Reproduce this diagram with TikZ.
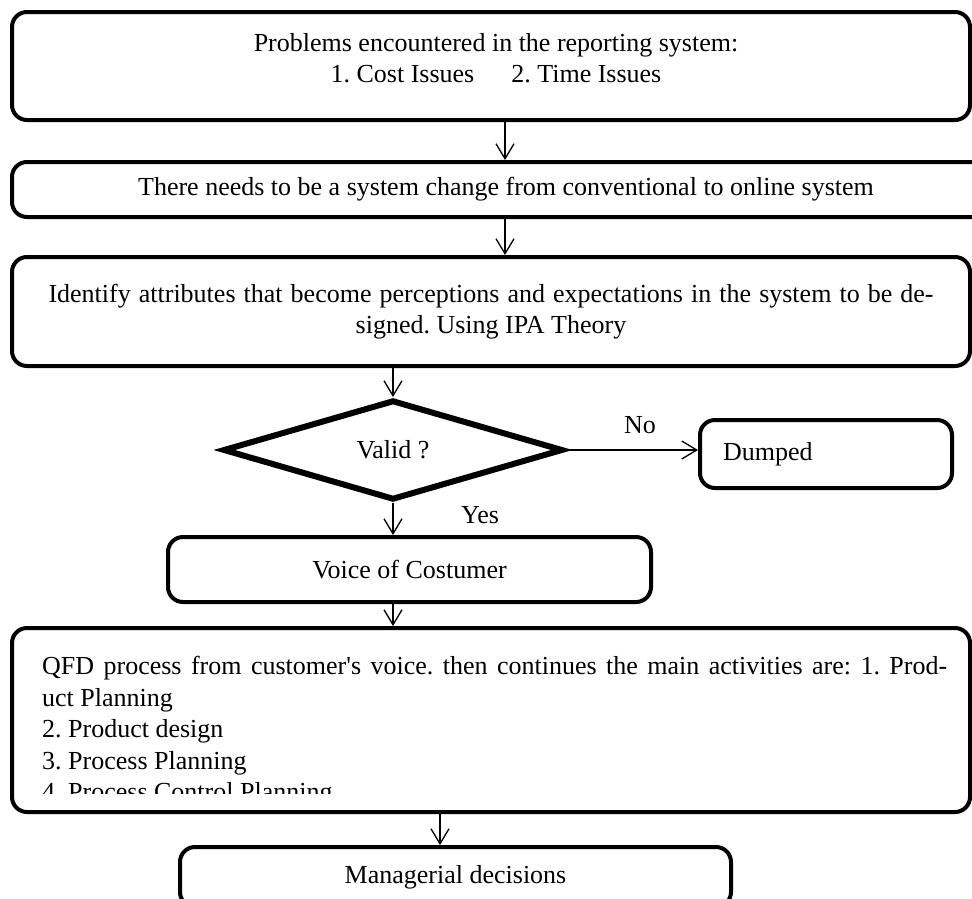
\documentclass[tikz,border=0pt]{standalone}
\usepackage{fontspec}
\setmainfont{Liberation Serif}
\usetikzlibrary{shapes.geometric,arrows.meta}
\frenchspacing
\begin{document}
\begin{tikzpicture}[x=1pt,y=-1pt,
    every node/.style={font=\fontsize{26}{31.5}\selectfont},
    stagebox/.style={draw,line width=4pt,rounded corners=15pt,inner sep=0pt},
    flow/.style={line width=1.3pt,-{Straight Barb[length=15pt,width=18pt]}},
    txt/.style={inner sep=0pt}]
      \useasboundingbox (0,0) rectangle (972,898);
      \clip (0,0) rectangle (972,898);
      \coordinate (upper) at (505,0);
      \coordinate (lower) at (440,0);
      \node[stagebox,minimum width=958pt,minimum height=108pt] (problem) at (491,66) {};
      \node[txt,align=center] (problemtext) at (496,58) {Problems encountered in the reporting system:\\1. Cost Issues\hspace{37pt}2. Time Issues};
      \node[stagebox,minimum width=988pt,minimum height=55pt] (change) at (506,189.5) {There needs to be a system change from conventional to online system};
      \node[stagebox,minimum width=958pt,minimum height=109pt,align=center] (identify) at (491,311.5) {\makebox[885pt][s]{Identify attributes that become perceptions and expectations in the system to be de-}\\signed. Using IPA Theory};
      \node[draw,diamond,line width=6pt,minimum width=340pt,minimum height=100pt,aspect=3.4,inner sep=0pt] (valid) at (393,450) {Valid ?};
      \node[stagebox,minimum width=252pt,minimum height=68pt,text width=206pt,align=left] (dumped) at (826,454) {Dumped};
      \node[txt] (no) at (640,425) {No};
      \node[txt] (yes) at (480,515) {Yes};
      \node[stagebox,minimum width=483pt,minimum height=65pt] (voice) at (409.5,569.5) {Voice of Costumer};
      \node[stagebox,minimum width=958pt,minimum height=184pt] (qfd) at (491,720) {};
      \begin{scope}
        \clip (qfd.north west) rectangle (970,793);
        \node[txt,anchor=north west,align=left] (qfdtext) at (42,656) {\makebox[905pt][s]{QFD process from customer\textquotesingle s voice. then continues the main activities are: 1. Prod-}\\uct Planning\\2. Product design\\3. Process Planning\\4. Process Control Planning};
      \end{scope}
      \node[stagebox,minimum width=551pt,minimum height=60pt] (decision) at (455.5,877) {Managerial decisions};
      \draw[flow] (problem.south -| upper) -- (change.north -| upper);
      \draw[flow] (change.south -| upper) -- (identify.north -| upper);
      \draw[flow] (identify.south -| valid) -- (valid.north);
      \draw[flow] (valid.east) -- (valid.east -| dumped.west);
      \draw[flow] (valid.south) -- (voice.north -| valid);
      \draw[flow] (voice.south -| valid) -- (qfd.north -| valid);
      \draw[flow] (qfd.south -| lower) -- (decision.north -| lower);
    \end{tikzpicture}
\end{document}
